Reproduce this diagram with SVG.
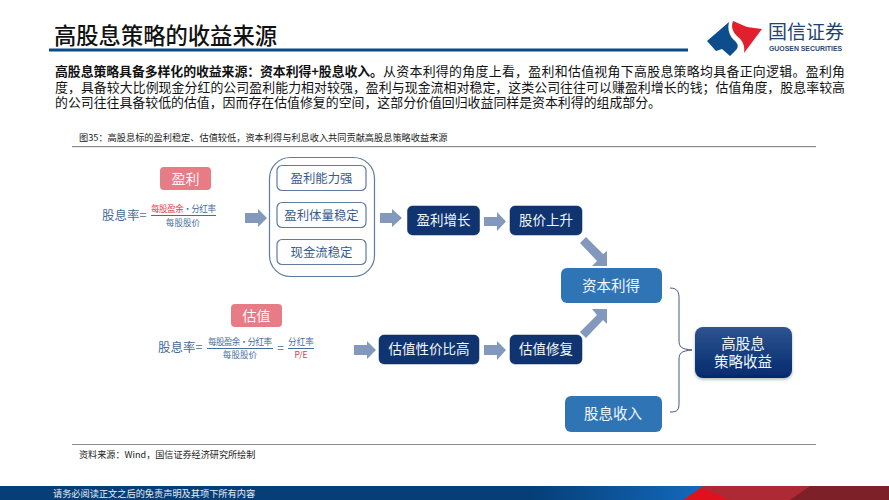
<svg xmlns="http://www.w3.org/2000/svg" width="889" height="500" viewBox="0 0 889 500">
<style>
text{font-family:"Liberation Sans","Noto Sans CJK SC",sans-serif}
.cjk{font-family:"Noto Sans CJK SC",sans-serif}
.body{font-size:12.9px;fill:#111}
.dark{fill:#0f3470;stroke:#0a2a5c;stroke-width:.5}
.light{fill:#2f75b5}
.w{fill:#f4f7fb;text-anchor:middle;font-family:"Noto Sans CJK SC",sans-serif}
.pink{fill:#e87c86}
.out{fill:#fff;stroke:#5f7ba3;stroke-width:1.2}
.in{fill:#365a8c;font-size:12.4px;text-anchor:middle;font-family:"Noto Sans CJK SC",sans-serif}
.ar{fill:#8299bd}
.f{fill:#466c9a;text-anchor:middle;font-family:"Noto Sans CJK SC",sans-serif}
.r{fill:#d9404a;text-anchor:middle;font-family:"Noto Sans CJK SC",sans-serif}
</style>
<defs>
<linearGradient id="fin" x1="0" y1="0" x2="0" y2="1"><stop offset="0" stop-color="#2e5590"/><stop offset=".5" stop-color="#173f7e"/><stop offset="1" stop-color="#042a6e"/></linearGradient>
<linearGradient id="bar" x1="0" y1="0" x2="1" y2="0"><stop offset="0" stop-color="#063f78"/><stop offset=".6" stop-color="#063f78"/><stop offset=".78" stop-color="#1267b8"/></linearGradient>
<filter id="sh" x="-10%" y="-10%" width="120%" height="130%"><feDropShadow dx="0" dy="1.5" stdDeviation="1.5" flood-color="#000" flood-opacity=".3"/></filter>
</defs>
<rect width="889" height="500" fill="#fff"/>
<g id="header">
<text x="54" y="44" class="cjk" font-size="22.3" font-weight="500" fill="#111">高股息策略的收益来源</text>
<rect x="49" y="48.500" width="639" height="3" fill="#0c4a85"/>
<path d="M707 41L729 22C727 30 730 37 735 41C739 45 738 48 736 50L730 56L722 49L716 51Z" fill="#0e4d8c"/>
<path d="M733 21L747 27L762 29L744 53C745 46 743 41 738 37C732 32 731 26 733 21Z" fill="#e0202c"/>
<text x="768" y="39" class="cjk" font-size="19" fill="#21436f">国信证券</text>
<text x="769" y="51" font-size="6.900" font-weight="700" fill="#2a4a74">GUOSEN SECURITIES</text>
</g>
<g id="intro">
<text x="55" y="76" class="body cjk" font-weight="700" textLength="328">高股息策略具备多样化的收益来源：资本利得+股息收入。</text>
<text x="383" y="76" class="body cjk" textLength="462">从资本利得的角度上看，盈利和估值视角下高股息策略均具备正向逻辑。盈利角</text>
<text x="55" y="92" class="body cjk" textLength="790">度，具备较大比例现金分红的公司盈利能力相对较强，盈利与现金流相对稳定，这类公司往往可以赚盈利增长的钱；估值角度，股息率较高</text>
<text x="55" y="107" class="body cjk" textLength="606">的公司往往具备较低的估值，因而存在估值修复的空间，这部分价值回归收益同样是资本利得的组成部分。</text>
</g>
<g id="caption">
<text x="79" y="141" class="cjk" font-size="9.200" fill="#222">图35：高股息标的盈利稳定、估值较低，资本利得与利息收入共同贡献高股息策略收益来源</text>
<rect x="72" y="146" width="744" height="1.200" fill="#8a8a8a"/>
<rect x="72" y="444" width="744" height="1" fill="#8a8a8a"/>
<text x="79" y="458" class="cjk" font-size="9.100" fill="#222">资料来源：Wind，国信证券经济研究所绘制</text>
</g>
<g id="connectors">
<path class="ar" d="M245 213H258V209L267 218L258 227V223H245Z"/>
<path class="ar" d="M380 213H392V209L402 218L392 227V223H380Z"/>
<path class="ar" d="M484 217H497V212L506 221.500L497 231V226H484Z"/>
<path class="ar" d="M586 237L603 254L607 251V266H592L597 261L580 243Z"/>
<path class="ar" d="M354 345H367V341L376 350L367 359V355H354Z"/>
<path class="ar" d="M484 345H497V341L506 350L497 360V355H484Z"/>
<path class="ar" d="M580 332L597 315L592 309H607V324L603 320L586 338Z"/>
<path d="M670 288C678 288 679 293 679 298V340C679 347 681 349 692 350C681 351 679 353 679 360V402C679 410 678 412 670 412" fill="none" stroke="#45597a" stroke-width="1"/>
</g>
<g id="n-yingli-tag"><rect x="160" y="167" width="51" height="23" rx="4" class="pink"/><text x="185.500" y="183.500" class="w" font-size="14">盈利</text></g>
<g id="n-formula1">
<text x="102" y="219.500" class="cjk" font-size="12.500" fill="#466c9a">股息率=</text>
<text x="151" y="212" font-size="8.600" class="cjk" textLength="65" fill="#466c9a"><tspan fill="#d9404a">每股盈余</tspan>•分红率</text>
<rect x="151" y="215" width="65" height="1" fill="#466c9a"/>
<text x="183" y="226" class="f" font-size="8.600">每股股价</text>
</g>
<g id="n-group"><rect x="269.500" y="157.500" width="105" height="119" rx="21" class="out"/></g>
<g id="n-a"><rect x="277" y="165.500" width="89" height="25" rx="5" class="out"/><text x="321.500" y="182.500" class="in">盈利能力强</text></g>
<g id="n-b"><rect x="277" y="202.500" width="89" height="25" rx="5" class="out"/><text x="321.500" y="219.500" class="in">盈利体量稳定</text></g>
<g id="n-c"><rect x="277" y="239.500" width="89" height="25" rx="5" class="out"/><text x="321.500" y="256.500" class="in">现金流稳定</text></g>
<g id="n-growth"><rect x="407.500" y="206" width="72" height="29" rx="5" class="dark"/><text x="443.500" y="225" class="w" font-size="13.500">盈利增长</text></g>
<g id="n-price"><rect x="510" y="206" width="72" height="29" rx="5" class="dark"/><text x="546" y="225" class="w" font-size="13.500">股价上升</text></g>
<g id="n-gains"><rect x="561" y="268" width="101" height="35" rx="6" class="light"/><text x="611" y="291" class="w" font-size="14.500">资本利得</text></g>
<g id="n-gz-tag"><rect x="231" y="304" width="51" height="23" rx="4" class="pink"/><text x="256.500" y="320.500" class="w" font-size="14">估值</text></g>
<g id="n-formula2">
<text x="158" y="352" class="cjk" font-size="12.500" fill="#466c9a">股息率=</text>
<text x="208" y="345" class="cjk" fill="#466c9a" font-size="8.600" textLength="64">每股盈余•分红率</text>
<rect x="207" y="348" width="66" height="1" fill="#466c9a"/>
<text x="240" y="358" class="f" font-size="8.600">每股股价</text>
<text x="280.500" y="352" class="f" font-size="12">=</text>
<text x="301" y="345" class="f" font-size="8.600">分红率</text>
<rect x="288" y="348" width="26" height="1" fill="#466c9a"/>
<text x="301" y="358" class="r" font-size="8.600">P/E</text>
</g>
<g id="n-value"><rect x="379" y="335" width="100" height="29" rx="5" class="dark"/><text x="429" y="354" class="w" font-size="13.500">估值性价比高</text></g>
<g id="n-repair"><rect x="510" y="335" width="72" height="29" rx="5" class="dark"/><text x="546" y="354" class="w" font-size="13.500">估值修复</text></g>
<g id="n-final"><rect x="695" y="327" width="97" height="51" rx="8" fill="url(#fin)" filter="url(#sh)"/><text x="743" y="349" class="w" font-size="14.500">高股息</text><text x="743" y="367" class="w" font-size="14.500">策略收益</text></g>
<g id="n-div"><rect x="565" y="396" width="97" height="36" rx="6" class="light"/><text x="613" y="419" class="w" font-size="14.500">股息收入</text></g>
<g id="footer">
<rect x="0" y="486" width="889" height="14" fill="url(#bar)"/>
<path d="M683 500L703 486H889V500Z" fill="#ad2a35"/>
<path d="M683 500L702 488L730 500Z" fill="#e0101c"/>
<path d="M790 500L810 486H889V500Z" fill="#7e2027"/>
<text x="53" y="497" class="cjk" font-size="9.200" fill="#e8eef6">请务必阅读正文之后的免责声明及其项下所有内容</text>
</g>
</svg>
